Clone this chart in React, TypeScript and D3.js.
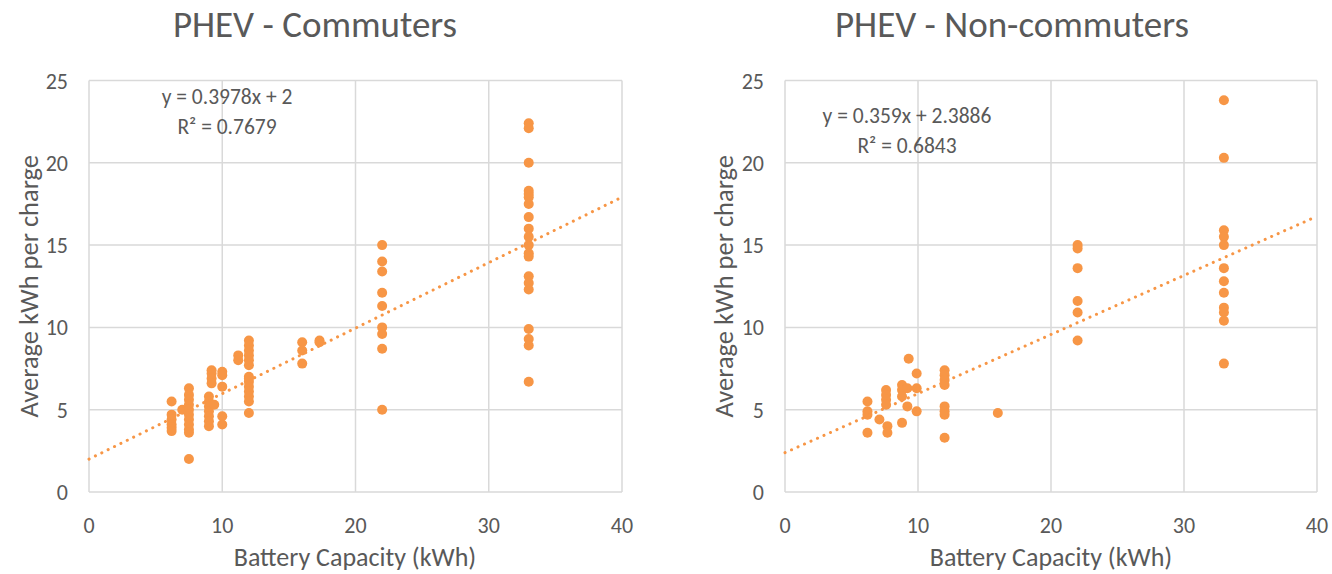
import React from "react";
import * as d3 from "d3";

// PHEV - Commuters (battery capacity kWh, average kWh per charge)
const commX = [
  6.2, 6.2, 6.2, 6.2, 6.2, 6.2,
  7.0,
  7.5, 7.5, 7.5, 7.5, 7.5, 7.5, 7.5, 7.5, 7.5, 7.5, 7.5,
  9.0, 9.0, 9.0, 9.0, 9.0, 9.0, 9.0,
  9.2, 9.2, 9.2, 9.2, 9.4,
  10, 10, 10, 10, 10,
  11.2, 11.2,
  12, 12, 12, 12, 12, 12, 12, 12, 12, 12, 12, 12, 12, 12,
  16, 16, 16, 17.3, 17.3,
  22, 22, 22, 22, 22, 22, 22, 22, 22,
  33, 33, 33, 33, 33, 33, 33, 33, 33, 33, 33, 33, 33, 33, 33, 33, 33, 33, 33, 33,
];
const commY = [
  5.5, 4.7, 4.4, 4.1, 3.9, 3.7,
  5.0,
  6.3, 5.9, 5.6, 5.3, 5.0, 4.7, 4.4, 4.1, 3.8, 3.6, 2.0,
  5.8, 5.5, 5.2, 4.9, 4.6, 4.3, 4.0,
  7.4, 7.2, 6.9, 6.6, 5.3,
  7.3, 7.1, 6.4, 4.6, 4.1,
  8.3, 8.0,
  9.2, 8.9, 8.6, 8.3, 8.0, 7.7, 7.0, 6.7, 6.4, 6.1, 5.8, 5.5, 4.8, 6.9,
  9.1, 8.6, 7.8, 9.2, 9.1,
  15.0, 14.0, 13.4, 12.1, 11.3, 10.0, 9.6, 8.7, 5.0,
  22.4, 22.1, 20.0, 18.3, 18.1, 17.9, 17.5, 16.7, 16.0, 15.5, 15.0, 14.5, 14.3, 13.1, 12.7, 12.3, 9.9, 9.3, 8.9, 6.7,
];

// PHEV - Non-commuters
const nonX = [
  6.2, 6.2, 6.2, 6.2,
  7.1, 7.7, 7.7,
  7.6, 7.6, 7.6, 7.6,
  8.8, 8.8, 8.8, 8.8,
  9.3, 9.2, 9.2,
  9.9, 9.9, 9.9,
  12, 12, 12, 12, 12, 12, 12, 12,
  16,
  22, 22, 22, 22, 22, 22,
  33, 33, 33, 33, 33, 33, 33, 33, 33, 33, 33, 33,
];
const nonY = [
  5.5, 4.9, 4.7, 3.6,
  4.4, 4.0, 3.6,
  6.2, 5.9, 5.6, 5.3,
  6.5, 6.2, 5.8, 4.2,
  8.1, 6.3, 5.2,
  7.2, 6.3, 4.9,
  7.4, 7.1, 6.8, 6.5, 5.2, 4.9, 4.7, 3.3,
  4.8,
  15.0, 14.8, 13.6, 11.6, 10.9, 9.2,
  23.8, 20.3, 15.9, 15.5, 15.0, 13.6, 12.8, 12.1, 11.2, 10.9, 10.4, 7.8,
];

const xTicks = [0, 10, 20, 30, 40];
const yTicks = [0, 5, 10, 15, 20, 25];

const ORANGE = "#F79646";
const GRID = "#D9D9D9";
const TEXT = "#595959";
const FONT = "Carlito, Calibri, 'Open Sans', sans-serif";

interface PanelProps {
  title: string;
  titleX: number;
  xs: number[];
  ys: number[];
  slope: number;
  intercept: number;
  eq: string;
  r2: string;
  eqX: number;
  eqY: number;
  left: number;
  right: number;
  axisTitleX: number;
  yTitleX: number;
}

const Panel: React.FC<PanelProps> = (p) => {
  const x = d3.scaleLinear().domain([0, 40]).range([p.left, p.right]);
  const y = d3.scaleLinear().domain([0, 25]).range([492, 80.5]);
  const trend = d3.line<number>()
    .x((d) => x(d))
    .y((d) => y(p.slope * d + p.intercept))([0, 40]);

  return (
    <g fontFamily={FONT} fill={TEXT}>
      <text x={p.titleX} y={37} textAnchor="middle" fontSize={37}>{p.title}</text>
      {yTicks.map((t) => (
        <line key={"h" + t} x1={x(0)} x2={x(40)} y1={y(t)} y2={y(t)} stroke={GRID} strokeWidth={1.5} />
      ))}
      {xTicks.map((t) => (
        <line key={"v" + t} x1={x(t)} x2={x(t)} y1={y(0)} y2={y(25)} stroke={GRID} strokeWidth={1.5} />
      ))}
      {yTicks.map((t) => (
        <text key={"yl" + t} x={p.left - 21} y={y(t) + 8} textAnchor="end" fontSize={22}>{t}</text>
      ))}
      {xTicks.map((t) => (
        <text key={"xl" + t} x={x(t)} y={533} textAnchor="middle" fontSize={22}>{t}</text>
      ))}
      <text x={p.axisTitleX} y={566} textAnchor="middle" fontSize={26}>Battery Capacity (kWh)</text>
      <text transform={`translate(${p.yTitleX},${y(12.5)}) rotate(-90)`} textAnchor="middle" fontSize={26.5}>
        Average kWh per charge
      </text>
      {p.xs.map((v, i) => (
        <circle key={i} cx={x(v)} cy={y(p.ys[i])} r={5} fill={ORANGE} />
      ))}
      <path d={trend ?? ""} stroke={ORANGE} strokeWidth={3} strokeDasharray="0.1 7" strokeLinecap="round" fill="none" />
      <text x={p.eqX} y={p.eqY} textAnchor="middle" fontSize={21.5}>{p.eq}</text>
      <text x={p.eqX} y={p.eqY + 30} textAnchor="middle" fontSize={21.5}>
        R² = {p.r2}
      </text>
    </g>
  );
};

export default function App() {
  return (
    <svg width={1332} height={574} style={{ position: "absolute", left: 0, top: 0, background: "#fff" }}>
      <rect width={1332} height={574} fill="#fff" />
      <Panel
        title="PHEV - Commuters"
        titleX={315}
        xs={commX}
        ys={commY}
        slope={0.3978}
        intercept={2}
        eq="y = 0.3978x + 2"
        r2="0.7679"
        eqX={227}
        eqY={104}
        left={89}
        right={622}
        axisTitleX={355}
        yTitleX={38}
      />
      <Panel
        title="PHEV - Non-commuters"
        titleX={1012}
        xs={nonX}
        ys={nonY}
        slope={0.359}
        intercept={2.3886}
        eq="y = 0.359x + 2.3886"
        r2="0.6843"
        eqX={907}
        eqY={123}
        left={785}
        right={1317}
        axisTitleX={1051}
        yTitleX={733}
      />
    </svg>
  );
}
